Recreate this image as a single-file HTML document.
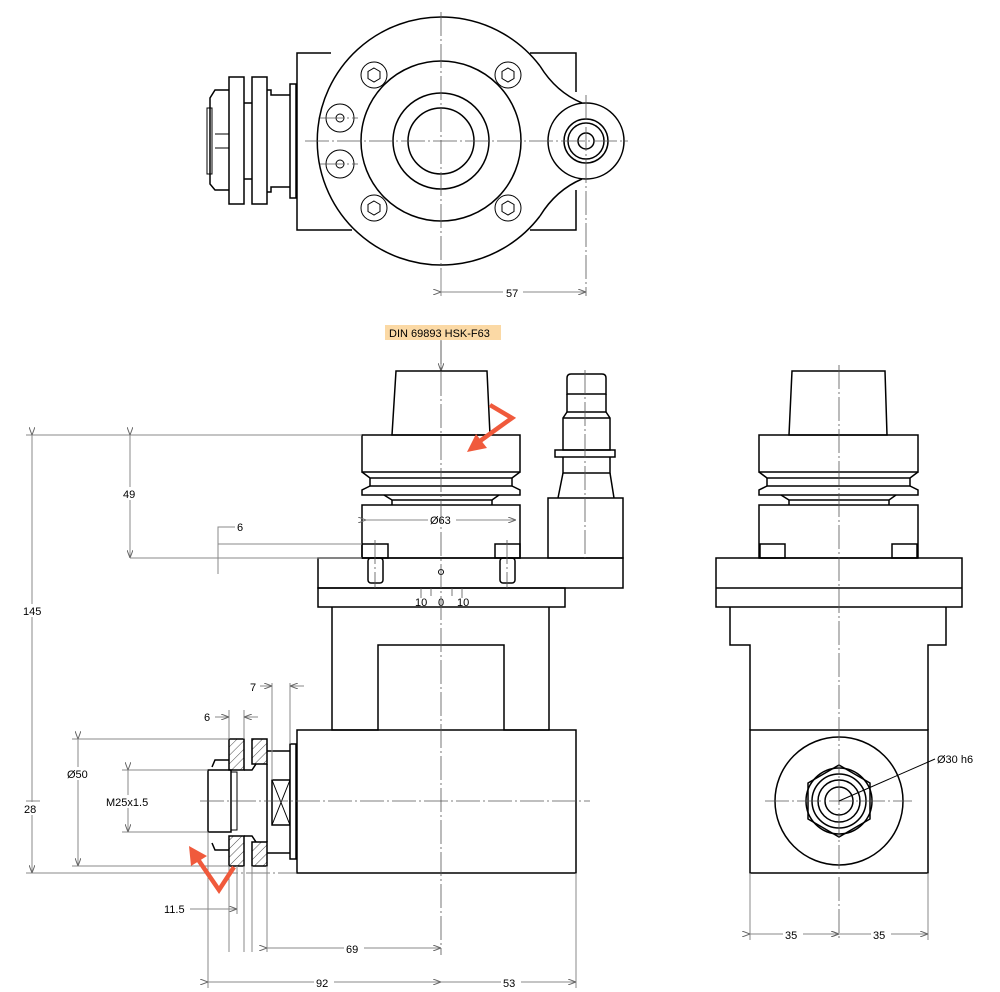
<!DOCTYPE html>
<html><head><meta charset="utf-8"><style>
html,body{margin:0;padding:0;background:#fff;width:1000px;height:992px;overflow:hidden}
svg{display:block}
.o{fill:none;stroke:#000;stroke-width:1.5}
.w{fill:#fff;stroke:#000;stroke-width:1.5}
.t{fill:none;stroke:#000;stroke-width:1}
.d{fill:none;stroke:#888;stroke-width:1}
.c{fill:none;stroke:#555;stroke-width:0.8;stroke-dasharray:24 3 2 3}
text{font-family:"Liberation Sans",sans-serif;font-size:11px;fill:#000}
.lb{fill:#fff;stroke:none}
</style></head><body>
<svg width="1000" height="992" viewBox="0 0 1000 992">
<defs>
<pattern id="h" width="6" height="6" patternUnits="userSpaceOnUse" patternTransform="rotate(45)"><line x1="0" y1="0" x2="0" y2="6" stroke="#000" stroke-width="0.7"/></pattern>
<marker id="a" markerWidth="8" markerHeight="6" refX="8" refY="3" orient="auto"><path d="M0,0 L8,3 L0,6" fill="none" stroke="#666" stroke-width="1"/></marker>
</defs>

<!-- ===== TOP VIEW ===== -->
<path class="o" d="M331,53 H297 V230 H352"/>
<path class="o" d="M530,53 H576 V92"/>
<path class="o" d="M576,190 V230 H530"/>
<path d="M540,66 A124,124 0 1 0 540,216 Q556,190 582,179 L582,103 Q556,92 540,66 Z" style="fill:#fff;stroke:none"/>
<path class="o" d="M540,66 A124,124 0 1 0 540,216"/>
<path class="o" d="M540,66 Q556,92 582,103"/>
<path class="o" d="M540,216 Q556,190 582,179"/>
<circle class="o" cx="586" cy="141" r="38"/>
<circle class="o" cx="586" cy="141" r="22"/>
<circle class="o" cx="586" cy="141" r="18"/>
<circle class="o" cx="586" cy="141" r="8"/>
<circle class="o" cx="441" cy="141" r="80"/>
<circle class="o" cx="441" cy="141" r="48"/>
<circle class="o" cx="441" cy="141" r="33"/>
<g class="t">
<circle cx="374" cy="75" r="13"/><polygon points="374,68 380,71.5 380,78.5 374,82 368,78.5 368,71.5"/>
<circle cx="508" cy="75" r="13"/><polygon points="508,68 514,71.5 514,78.5 508,82 502,78.5 502,71.5"/>
<circle cx="374" cy="208" r="13"/><polygon points="374,201 380,204.5 380,211.5 374,215 368,211.5 368,204.5"/>
<circle cx="508" cy="208" r="13"/><polygon points="508,201 514,204.5 514,211.5 508,215 502,211.5 502,204.5"/>
<circle cx="340" cy="118" r="14"/><circle cx="340" cy="118" r="4"/>
<circle cx="340" cy="164" r="14"/><circle cx="340" cy="164" r="4"/>
</g>
<!-- left hub top -->
<rect class="o" x="229" y="77" width="15" height="127"/>
<rect class="o" x="252" y="77" width="15" height="127"/>
<path class="o" d="M229,90 H215 L210,98 V184 L215,190 H229"/>
<rect class="t" x="207" y="108" width="5" height="66"/>
<line class="t" x1="215" y1="134" x2="229" y2="134"/><line class="t" x1="215" y1="148" x2="229" y2="148"/>
<path class="o" d="M244,103 H252 M244,179 H252"/>
<path class="o" d="M267,90 H271 V95 H290 M267,192 H271 V187 H290"/>
<rect class="w" x="290" y="84" width="6" height="114"/>
<g class="c"><line x1="441" y1="12" x2="441" y2="270"/><line x1="305" y1="141" x2="628" y2="141"/><line x1="586" y1="95" x2="586" y2="296"/>
<line x1="320" y1="118" x2="358" y2="118"/><line x1="320" y1="164" x2="358" y2="164"/></g>
<line class="d" x1="441" y1="270" x2="441" y2="296"/>
<line class="d" x1="441" y1="292" x2="586" y2="292" marker-start="url(#a)" marker-end="url(#a)"/>
<rect class="lb" x="503" y="286" width="20" height="12"/><text x="506" y="297">57</text>

<!-- ===== FRONT VIEW ===== -->
<rect x="385" y="325" width="116" height="15" fill="#fbd9a5"/>
<text x="389" y="337">DIN 69893 HSK-F63</text>
<line class="d" x1="441" y1="341" x2="441" y2="371" marker-end="url(#a)"/>
<path class="o" d="M396,371 H487 L490,435 H392 Z"/>
<rect class="o" x="362" y="435" width="158" height="37"/>
<path class="o" d="M362,472 L370,478 H512 L520,472"/>
<path class="o" d="M370,478 V486 H512 V478"/>
<path class="o" d="M370,486 L362,490 V495 H520 V490 L512,486"/>
<path class="o" d="M384,495 L392,500 H492 L499,495"/>
<path class="o" d="M392,500 V505 M492,500 V505"/>
<rect class="o" x="362" y="505" width="158" height="53"/>
<rect class="o" x="362" y="544" width="26" height="14"/>
<rect class="o" x="495" y="544" width="25" height="14"/>
<rect class="o" x="368" y="558" width="15" height="25" rx="3"/>
<rect class="o" x="500" y="558" width="15" height="25" rx="3"/>
<line class="d" x1="366" y1="520" x2="516" y2="520" marker-start="url(#a)" marker-end="url(#a)"/>
<rect class="lb" x="428" y="513" width="28" height="13"/><text x="430" y="524">Ø63</text>
<!-- nozzle -->
<path class="o" d="M567,378 Q567,374 571,374 H602 Q606,374 606,378 V394 H567 Z"/>
<path class="o" d="M567,394 V412 H606 V394"/>
<path class="o" d="M567,412 L563,418 V450 H610 V418 L606,412"/>
<path class="o" d="M563,418 H610"/>
<rect class="o" x="555" y="450" width="60" height="7"/>
<path class="o" d="M563,457 V473 H610 V457"/>
<path class="o" d="M563,473 L558,498 M610,473 L614,498"/>
<rect class="o" x="548" y="498" width="75" height="60"/>
<!-- plates and body -->
<rect class="o" x="318" y="558" width="305" height="30"/>
<rect class="o" x="318" y="588" width="247" height="19"/>
<circle class="t" cx="441" cy="572" r="2.5"/>
<g stroke="#555" stroke-width="0.8"><line x1="421" y1="588" x2="421" y2="598"/><line x1="431" y1="588" x2="431" y2="596"/><line x1="452" y1="588" x2="452" y2="596"/><line x1="462" y1="588" x2="462" y2="598"/></g>
<g style="font-size:9px"><text x="415" y="606" fill="#444">10</text><text x="438" y="606" fill="#444">0</text><text x="457" y="606" fill="#444">10</text></g>
<path class="o" d="M332,607 V730 H378 V645 H504 V730 H549 V607"/>
<rect class="o" x="297" y="730" width="279" height="143"/>
<!-- left hub front -->
<rect x="229" y="739" width="15" height="31" fill="url(#h)" stroke="#000" stroke-width="1.5"/>
<rect x="229" y="836" width="15" height="30" fill="url(#h)" stroke="#000" stroke-width="1.5"/>
<rect x="252" y="739" width="15" height="25" fill="url(#h)" stroke="#000" stroke-width="1.5"/>
<rect x="252" y="842" width="15" height="24" fill="url(#h)" stroke="#000" stroke-width="1.5"/>
<path class="o" d="M229,760 H215 L212,767 M229,850 H215 L212,843"/>
<rect class="o" x="208" y="770" width="23" height="62"/>
<rect class="t" x="231" y="772" width="6" height="58"/>
<path class="o" d="M244,770 H252 L256,764 M244,836 H252 L256,842"/>
<path class="o" d="M267,751 H290 M267,853 H290"/>
<line class="o" x1="267" y1="764" x2="267" y2="842"/>
<rect class="o" x="272" y="780" width="18" height="45"/>
<path class="t" d="M272,780 L290,825 M290,780 L272,825"/>
<rect class="w" x="290" y="744" width="6" height="115"/>
<!-- centerlines front -->
<g class="c"><line x1="441" y1="340" x2="441" y2="955"/><line x1="200" y1="801" x2="590" y2="801"/><line x1="375" y1="540" x2="375" y2="588"/><line x1="507" y1="540" x2="507" y2="588"/><line x1="585" y1="370" x2="585" y2="558"/>
<line x1="214" y1="873" x2="297" y2="873"/></g>

<!-- ===== RIGHT VIEW ===== -->
<path class="o" d="M792,371 H885 L887,435 H789 Z"/>
<rect class="o" x="759" y="435" width="159" height="37"/>
<path class="o" d="M759,472 L767,478 H910 L918,472"/>
<path class="o" d="M767,478 V486 H910 V478"/>
<path class="o" d="M767,486 L759,490 V495 H918 V490 L910,486"/>
<path class="o" d="M781,495 L789,500 H889 L896,495"/>
<path class="o" d="M789,500 V505 M889,500 V505"/>
<rect class="o" x="759" y="505" width="159" height="53"/>
<rect class="o" x="760" y="544" width="25" height="14"/>
<rect class="o" x="892" y="544" width="25" height="14"/>
<rect class="o" x="716" y="558" width="246" height="49"/>
<line class="o" x1="716" y1="588" x2="962" y2="588"/>
<path class="o" d="M730,607 V645 H750 V730 M946,607 V645 H928 V730"/>
<rect class="o" x="750" y="730" width="178" height="143"/>
<circle class="o" cx="839" cy="801" r="64"/>
<polygon class="o" points="839,765 870,783 870,819 839,837 808,819 808,783"/>
<circle class="o" cx="839" cy="801" r="33"/>
<circle class="o" cx="839" cy="801" r="27"/>
<circle class="o" cx="839" cy="801" r="21"/>
<circle class="o" cx="839" cy="801" r="14"/>
<g class="c"><line x1="839" y1="365" x2="839" y2="940"/><line x1="765" y1="801" x2="912" y2="801"/></g>
<line class="t" x1="839" y1="801" x2="935" y2="759" stroke="#444"/>
<text x="937" y="763">Ø30 h6</text>

<!-- ===== DIMENSIONS ===== -->
<g class="d">
<line x1="26" y1="435" x2="362" y2="435"/>
<line x1="26" y1="873" x2="230" y2="873"/>
<line x1="26" y1="801" x2="40" y2="801"/>
<line x1="32" y1="435" x2="32" y2="873" marker-start="url(#a)" marker-end="url(#a)"/>
<line x1="130" y1="435" x2="130" y2="558" marker-start="url(#a)" marker-end="url(#a)"/>
<line x1="130" y1="558" x2="362" y2="558"/>
<line x1="218" y1="544" x2="362" y2="544"/>
<path d="M218,574 V527 H235"/>
<line x1="72" y1="739" x2="229" y2="739"/><line x1="72" y1="866" x2="229" y2="866"/>
<line x1="78" y1="739" x2="78" y2="866" marker-start="url(#a)" marker-end="url(#a)"/>
<line x1="122" y1="770" x2="208" y2="770"/><line x1="122" y1="832" x2="208" y2="832"/>
<line x1="128" y1="770" x2="128" y2="832" marker-start="url(#a)" marker-end="url(#a)"/>
<line x1="208" y1="832" x2="208" y2="988"/>
<line x1="237" y1="866" x2="237" y2="914"/>
<line x1="190" y1="909" x2="237" y2="909" marker-end="url(#a)"/>
<line x1="229" y1="710" x2="229" y2="739"/><line x1="244" y1="710" x2="244" y2="739"/>
<line x1="215" y1="717" x2="229" y2="717" marker-end="url(#a)"/><line x1="258" y1="717" x2="244" y2="717" marker-end="url(#a)"/>
<line x1="272" y1="683" x2="272" y2="780"/><line x1="290" y1="683" x2="290" y2="744"/>
<line x1="260" y1="686" x2="272" y2="686" marker-end="url(#a)"/><line x1="304" y1="686" x2="290" y2="686" marker-end="url(#a)"/>
<line x1="252" y1="866" x2="252" y2="952"/><line x1="267" y1="866" x2="267" y2="952"/><line x1="244" y1="866" x2="244" y2="952"/><line x1="229" y1="866" x2="229" y2="952"/>
<line x1="267" y1="948" x2="441" y2="948" marker-start="url(#a)" marker-end="url(#a)"/>
<line x1="576" y1="873" x2="576" y2="988"/>
<line x1="208" y1="982" x2="441" y2="982" marker-start="url(#a)" marker-end="url(#a)"/>
<line x1="441" y1="982" x2="576" y2="982" marker-end="url(#a)"/>
<line x1="750" y1="873" x2="750" y2="940"/><line x1="928" y1="873" x2="928" y2="940"/>
<line x1="750" y1="934" x2="839" y2="934" marker-start="url(#a)" marker-end="url(#a)"/>
<line x1="839" y1="934" x2="928" y2="934" marker-start="url(#a)" marker-end="url(#a)"/>
</g>
<g>
<rect class="lb" x="22" y="604" width="22" height="13"/><text x="23" y="615">145</text>
<rect class="lb" x="122" y="487" width="16" height="13"/><text x="123" y="498">49</text>
<rect class="lb" x="22" y="802" width="20" height="13"/><text x="24" y="813">28</text>
<rect class="lb" x="66" y="767" width="24" height="13"/><text x="67" y="778">Ø50</text>
<rect class="lb" x="104" y="795" width="50" height="13"/><text x="106" y="806">M25x1.5</text>
<text x="237" y="531">6</text>
<text x="204" y="721">6</text>
<text x="250" y="691">7</text>
<text x="164" y="913">11.5</text>
<rect class="lb" x="344" y="942" width="20" height="13"/><text x="346" y="953">69</text>
<rect class="lb" x="314" y="976" width="20" height="13"/><text x="316" y="987">92</text>
<rect class="lb" x="501" y="976" width="20" height="13"/><text x="503" y="987">53</text>
<rect class="lb" x="783" y="928" width="20" height="13"/><text x="785" y="939">35</text>
<rect class="lb" x="871" y="928" width="20" height="13"/><text x="873" y="939">35</text>
</g>

<!-- red arrows -->
<path d="M490,405 L512,418 L480,441" fill="none" stroke="#f05a3c" stroke-width="4.5"/>
<polygon points="467,452 487,448 476,434" fill="#f05a3c"/>
<path d="M234,867 L219,890 L197,858" fill="none" stroke="#f05a3c" stroke-width="4.5"/>
<polygon points="189,846 207,856 191,866" fill="#f05a3c"/>
</svg>
</body></html>
